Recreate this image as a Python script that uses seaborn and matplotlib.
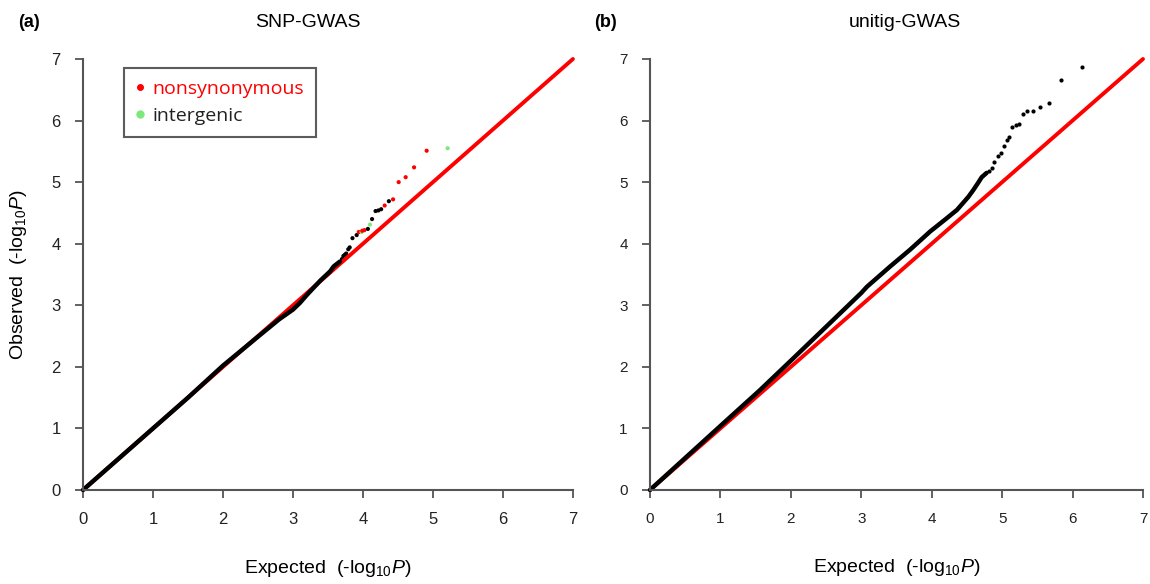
import matplotlib
matplotlib.use("Agg")
import matplotlib.pyplot as plt
import seaborn as sns
import pandas as pd
from matplotlib.lines import Line2D

sns.set_style("white")
plt.rcParams['font.family'] = ['Liberation Sans', 'DejaVu Sans']
plt.rcParams['mathtext.fontset'] = 'custom'
plt.rcParams['mathtext.rm'] = 'Liberation Sans'
plt.rcParams['mathtext.it'] = 'Liberation Sans:italic'
plt.rcParams['text.color'] = 'black'
plt.rcParams['axes.labelcolor'] = 'black'
plt.rcParams['xtick.labelcolor'] = '#222222'
plt.rcParams['ytick.labelcolor'] = '#222222'

# ---------------- data ----------------
diag = [0, 7]
ticks = [0, 1, 2, 3, 4, 5, 6, 7]

# Panel (a) SNP-GWAS: dense body of the QQ curve
a_body_x = [0.0, 0.5, 1.0, 1.5, 2.0, 2.5, 2.8, 3.0, 3.1, 3.2, 3.39, 3.53, 3.58, 3.67]
a_body_y = [0.0, 0.5, 1.0, 1.5, 2.02, 2.49, 2.77, 2.93, 3.04, 3.17, 3.40, 3.55, 3.63, 3.71]
# Panel (a) tail points
a_tail_x = [3.70, 3.72, 3.74, 3.76, 3.79, 3.81, 3.85, 3.91, 3.94, 3.98, 3.99, 4.02, 4.07, 4.10,
            4.13, 4.18, 4.22, 4.26, 4.31, 4.37, 4.43, 4.51, 4.61, 4.73, 4.91, 5.21]
a_tail_y = [3.75, 3.80, 3.82, 3.84, 3.91, 3.94, 4.09, 4.14, 4.19, 4.19, 4.21, 4.22, 4.24, 4.31,
            4.40, 4.53, 4.54, 4.56, 4.62, 4.69, 4.72, 5.00, 5.08, 5.24, 5.51, 5.55]
a_tail_type = ['other', 'other', 'other', 'other', 'other', 'other', 'other', 'other',
               'nonsynonymous', 'intergenic',
               'nonsynonymous', 'nonsynonymous', 'other', 'intergenic',
               'other', 'other', 'other', 'other', 'nonsynonymous', 'other', 'nonsynonymous',
               'nonsynonymous', 'nonsynonymous', 'nonsynonymous', 'nonsynonymous', 'intergenic']

# Panel (b) unitig-GWAS: dense body
b_body_x = [0.0, 0.5, 1.0, 1.56, 2.0, 2.5, 3.0, 3.08, 3.41, 3.69, 3.98, 4.21, 4.36,
            4.52, 4.59, 4.66, 4.71, 4.78]
b_body_y = [0.0, 0.52, 1.04, 1.62, 2.1, 2.65, 3.2, 3.30, 3.63, 3.90, 4.20, 4.41, 4.55,
            4.76, 4.87, 4.99, 5.08, 5.15]
# Panel (b) tail points
b_tail_x = [4.82, 4.86, 4.89, 4.94, 4.98, 5.02, 5.07, 5.10, 5.14, 5.19, 5.24, 5.29, 5.36,
            5.44, 5.54, 5.67, 5.84, 6.14]
b_tail_y = [5.18, 5.23, 5.32, 5.42, 5.47, 5.58, 5.68, 5.73, 5.90, 5.92, 5.94, 6.11, 6.15,
            6.16, 6.22, 6.29, 6.66, 6.87]

palette = {'other': 'black', 'nonsynonymous': '#ff0000', 'intergenic': '#7de87d'}

# ---------------- figure ----------------
fig = plt.figure(figsize=(11.5, 5.84), dpi=100)
axA = fig.add_axes([0.0722, 0.161, 0.426, 0.738])
axB = fig.add_axes([0.5652, 0.161, 0.4287, 0.738])

spine_col = '#555555'


def style(ax, labsize):
    ax.set_xlim(0, 7)
    ax.set_ylim(0, 7)
    ax.set_xticks(ticks)
    ax.set_yticks(ticks)
    for s in ['top', 'right']:
        ax.spines[s].set_visible(False)
    for s in ['left', 'bottom']:
        ax.spines[s].set_color(spine_col)
        ax.spines[s].set_linewidth(1.5)
    ax.tick_params(direction='out', length=6, width=1.3, color=spine_col,
                   labelsize=labsize, pad=10, bottom=True, left=True)
    ax.set_xlabel('Expected  (-log$_{10}$$\\it{P}$)', fontsize=14, labelpad=22)


# Panel (a)
sns.lineplot(x=diag, y=diag, ax=axA, color='#ff0000', lw=2.8, clip_on=False)
sns.lineplot(x=a_body_x, y=a_body_y, ax=axA, color='black', lw=3.2, sort=False,
             clip_on=False)
dfa = pd.DataFrame({'x': a_tail_x, 'y': a_tail_y, 't': a_tail_type})
sns.scatterplot(data=dfa, x='x', y='y', hue='t', palette=palette, ax=axA, s=9,
                linewidth=0, legend=False, clip_on=False)
style(axA, 12)
axA.set_ylabel('Observed  (-log$_{10}$$\\it{P}$)', fontsize=14, labelpad=16)

handles = [Line2D([], [], marker='o', color='#ff0000', linestyle='none', markersize=4),
           Line2D([], [], marker='o', color='#7de87d', linestyle='none', markersize=5)]
leg = axA.legend(handles, ['nonsynonymous', 'intergenic'], loc='upper left',
                 bbox_to_anchor=(0.084, 0.978), borderaxespad=0, frameon=True,
                 fancybox=False, edgecolor='#333333', handlelength=0.4,
                 handletextpad=0.45, borderpad=0.6, labelspacing=0.45,
                 prop={'family': 'Open Sans', 'size': 14})
leg.get_frame().set_linewidth(1.5)
leg.get_texts()[0].set_color('#ff0000')
leg.get_texts()[1].set_color('#222222')

# Panel (b)
sns.lineplot(x=diag, y=diag, ax=axB, color='#ff0000', lw=2.8, clip_on=False)
sns.lineplot(x=b_body_x, y=b_body_y, ax=axB, color='black', lw=3.2, sort=False,
             clip_on=False)
sns.scatterplot(x=b_tail_x, y=b_tail_y, ax=axB, color='black', s=9, linewidth=0,
                clip_on=False)
style(axB, 11)
axB.set_ylabel('')

# Titles and panel letters
fig.text(0.268, 0.962, 'SNP-GWAS', ha='center', va='center', fontsize=14)
fig.text(0.787, 0.962, 'unitig-GWAS', ha='center', va='center', fontsize=14)
fig.text(0.016, 0.962, '(a)', ha='left', va='center', fontsize=13, fontweight='bold')
fig.text(0.517, 0.962, '(b)', ha='left', va='center', fontsize=13, fontweight='bold')

fig.savefig('out.png', dpi=100)
